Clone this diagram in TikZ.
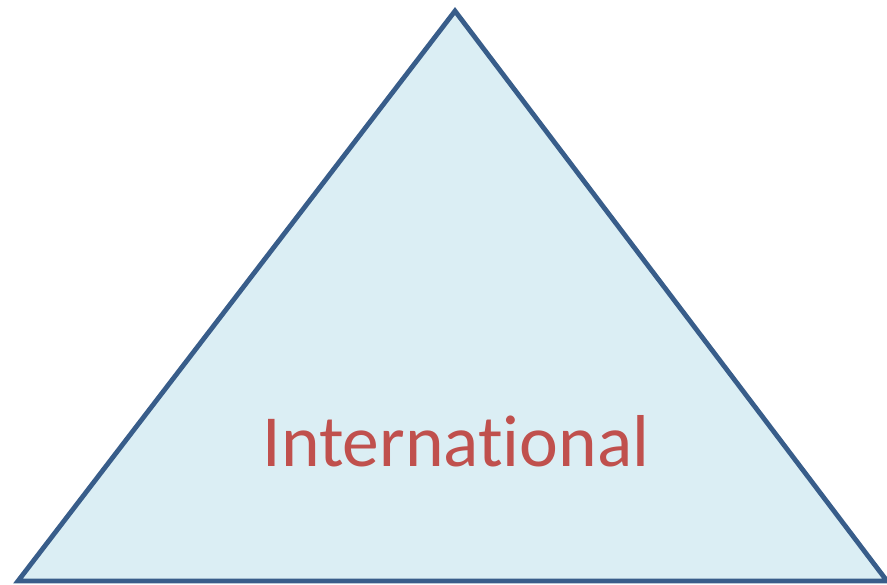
\documentclass[tikz,border=0pt]{standalone}
\usepackage{fontspec}
\setmainfont{Carlito}[Ligatures=CommonOff]
\definecolor{triFill}{HTML}{DBEEF4}
\definecolor{triLine}{HTML}{385D8A}
\definecolor{txtRed}{HTML}{C0504D}
\tikzset{
  tri/.style={fill=triFill, draw=triLine, line width=4.8pt, line join=miter},
  label text/.style={text=txtRed, font=\fontsize{73.5}{80}\selectfont, inner sep=0pt, anchor=base}
}
\begin{document}
\begin{tikzpicture}[x=1pt,y=1pt]
\useasboundingbox (0,0) rectangle (887,-585);
\coordinate (apex) at (455,-11);
\coordinate (bl) at (18,-581);
\coordinate (br) at (887,-581);
\draw[tri] (apex) -- (br) -- (bl) -- cycle;
\node[label text] (intl) at (456,-467) {International};
\end{tikzpicture}
\end{document}
